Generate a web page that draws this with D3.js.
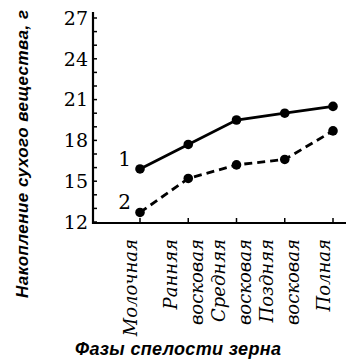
<!DOCTYPE html>
<html>
<head>
<meta charset="utf-8">
<script src="https://cdn.jsdelivr.net/npm/d3@7"></script>
<style>
  html, body { margin: 0; padding: 0; background: #fff; }
  svg { display: block; }
</style>
</head>
<body>
<svg id="chart" width="350" height="360"></svg>
<script>
// Ripening phases of grain (x categories), each label may span two lines
const phases = ["Молочная", "Ранняя восковая", "Средняя восковая", "Поздняя восковая", "Полная"];
const phaseLines = [["Молочная"], ["Ранняя", "восковая"], ["Средняя", "восковая"], ["Поздняя", "восковая"], ["Полная"]];
// Dry matter accumulation, g
const series1 = [15.9, 17.7, 19.5, 20.0, 20.5];
const series2 = [12.7, 15.2, 16.2, 16.6, 18.7];
const seriesNames = ["1", "2"];
const yTicks = [12, 15, 18, 21, 24, 27];
const yMinorTicks = d3.range(12, 28);

const svg = d3.select("#chart");
const serif = "'DejaVu Serif', 'Liberation Serif', serif";
const sans = "'Liberation Sans', 'DejaVu Sans', sans-serif";

const x = d3.scalePoint().domain(phases).range([140, 333]);
const y = d3.scaleLinear().domain([12, 27]).range([222, 18]);

const axisX = 93, axisY = 223;

// Axis lines
svg.append("line").attr("x1", axisX).attr("x2", axisX).attr("y1", 12).attr("y2", axisY + 1)
  .attr("stroke", "#000").attr("stroke-width", 2.2);
svg.append("line").attr("x1", axisX - 1).attr("x2", 346).attr("y1", axisY).attr("y2", axisY)
  .attr("stroke", "#000").attr("stroke-width", 2.2);

// Y ticks (inward, every unit)
svg.append("g").selectAll("line").data(yMinorTicks).join("line")
  .attr("x1", axisX).attr("x2", axisX + 4)
  .attr("y1", d => y(d)).attr("y2", d => y(d))
  .attr("stroke", "#000").attr("stroke-width", 1.5);

// Y tick labels
svg.append("g").selectAll("text").data(yTicks).join("text")
  .attr("x", 88).attr("y", d => y(d)).attr("dy", "0.36em")
  .attr("text-anchor", "end")
  .attr("font-family", serif).attr("font-size", 19)
  .text(d => d);

// X ticks (inward)
svg.append("g").selectAll("line").data(phases).join("line")
  .attr("x1", d => x(d)).attr("x2", d => x(d))
  .attr("y1", axisY).attr("y2", axisY - 5)
  .attr("stroke", "#000").attr("stroke-width", 1.5);

// X category labels, rotated
const offsets = { 1: [-9], 2: [-18, 8] };
phases.forEach((p, i) => {
  const lines = phaseLines[i];
  const offs = offsets[lines.length];
  lines.forEach((ln, j) => {
    const cx = x(p) + offs[j];
    svg.append("text")
      .attr("transform", `translate(${cx},239) rotate(-90)`)
      .attr("text-anchor", "end")
      .attr("dy", "0.35em")
      .attr("font-family", serif).attr("font-style", "italic")
      .attr("font-size", 18)
      .text(ln);
  });
});

// Lines
const line = d3.line().x((d, i) => x(phases[i])).y(d => y(d));
svg.append("path").datum(series1).attr("d", line)
  .attr("fill", "none").attr("stroke", "#000").attr("stroke-width", 2.8);
svg.append("path").datum(series2).attr("d", line)
  .attr("fill", "none").attr("stroke", "#000").attr("stroke-width", 2.8)
  .attr("stroke-dasharray", "8,5");

// Markers
[series1, series2].forEach(s => {
  svg.append("g").selectAll("circle").data(s).join("circle")
    .attr("cx", (d, i) => x(phases[i])).attr("cy", d => y(d))
    .attr("r", 4.8).attr("fill", "#000");
});

// Series labels
[series1, series2].forEach((s, k) => {
  svg.append("text")
    .attr("x", x(phases[0]) - 9).attr("y", y(s[0]) - 3)
    .attr("text-anchor", "end")
    .attr("font-family", serif).attr("font-size", 20)
    .text(seriesNames[k]);
});

// Axis titles
svg.append("text")
  .attr("transform", "translate(22,154) rotate(-90)")
  .attr("text-anchor", "middle").attr("dy", "0.35em")
  .attr("font-family", sans).attr("font-style", "italic").attr("font-weight", "bold")
  .attr("font-size", 17)
  .attr("textLength", 288).attr("lengthAdjust", "spacing")
  .text("Накопление сухого вещества, г");

svg.append("text")
  .attr("x", 178).attr("y", 355)
  .attr("text-anchor", "middle")
  .attr("font-family", sans).attr("font-style", "italic").attr("font-weight", "bold")
  .attr("font-size", 18)
  .attr("textLength", 206).attr("lengthAdjust", "spacing")
  .text("Фазы спелости зерна");
</script>
</body>
</html>
